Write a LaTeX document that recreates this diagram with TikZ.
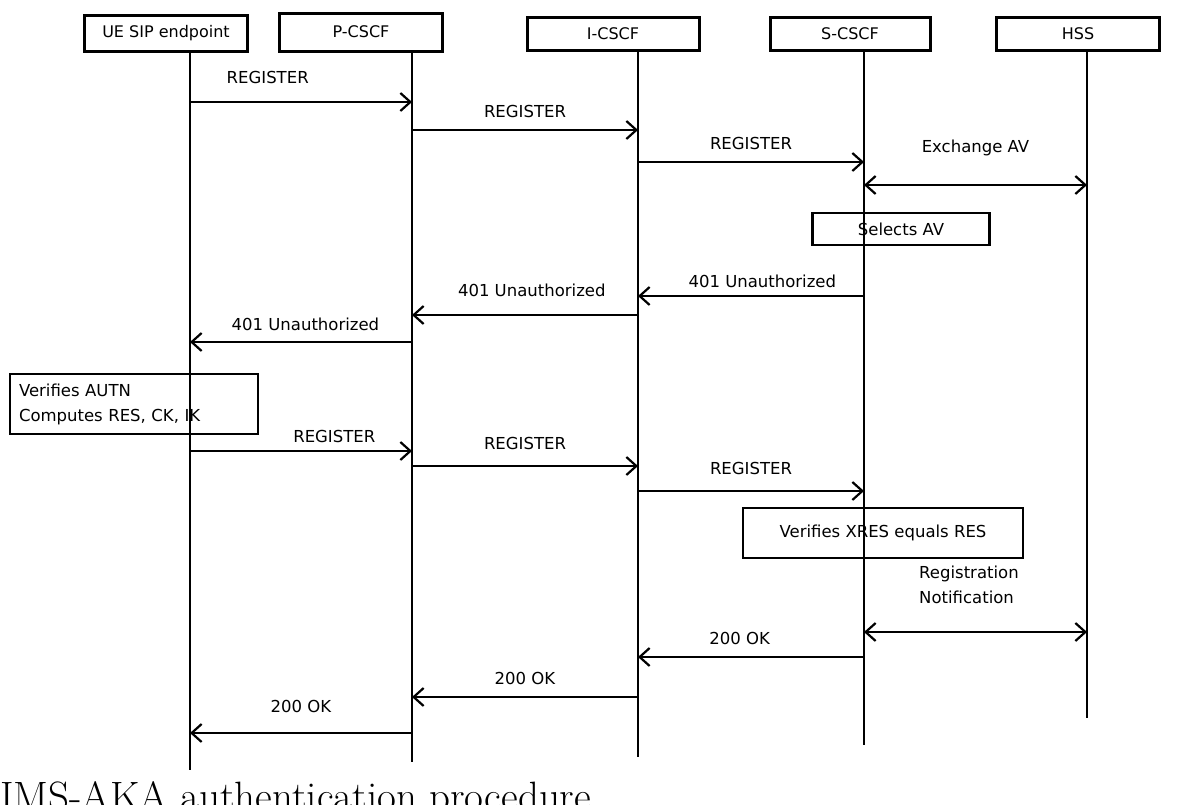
\documentclass[tikz,border=0pt]{standalone}
\usepackage{fontspec}
\setmainfont{Latin Modern Roman}
\newfontfamily\lbl{DejaVu Sans}
\usetikzlibrary{arrows.meta}
\begin{document}
\begin{tikzpicture}[x=1pt,y=-1pt,
  head/.style={draw, line width=3pt, font=\lbl\fontsize{16}{18}\selectfont, inner sep=0pt},
  life/.style={line width=2.8pt},
  msg/.style={line width=2.8pt, -{Straight Barb[length=10pt,width=18pt,line width=2.2pt]}},
  dmsg/.style={msg, {Straight Barb[length=10pt,width=18pt,line width=2.2pt]}-{Straight Barb[length=10pt,width=18pt,line width=2.2pt]}},
  lab/.style={font=\lbl\fontsize{16.5}{25}\selectfont, align=center},
  note/.style={draw, line width=2.4pt, lab, inner sep=0pt}]
\useasboundingbox (0,0) rectangle (1185,804);
% header boxes
\node[head, minimum width=163pt, minimum height=36pt] (ue) at (166,33) {UE SIP endpoint};
\node[head, minimum width=163pt, minimum height=38pt] (p) at (361,32) {P-CSCF};
\node[head, minimum width=172pt, minimum height=33pt] (i) at (613,34) {I-CSCF};
\node[head, minimum width=160pt, minimum height=33pt] (s) at (850,34) {S-CSCF};
\node[head, minimum width=163pt, minimum height=33pt] (h) at (1078,34) {HSS};
% lifeline ends
\coordinate (ue0) at (190,51); \coordinate (ue1) at (190,770);
\coordinate (p0) at (412,51);  \coordinate (p1) at (412,762);
\coordinate (i0) at (638,51);  \coordinate (i1) at (638,757);
\coordinate (s0) at (864,51);  \coordinate (s1) at (864,745);
\coordinate (h0) at (1087,51); \coordinate (h1) at (1087,718);
\foreach \a in {ue,p,i,s,h} \draw[life] (\a0) -- (\a1);
% first REGISTER
\draw[msg] (190,102) -- node[lab, above=14pt, pos=0.35] {REGISTER} (412,102);
\draw[msg] (412,130) -- node[lab, above=8pt] {REGISTER} (638,130);
\draw[msg] (638,162) -- node[lab, above=8pt] {REGISTER} (864,162);
\draw[dmsg] (864,185) -- node[lab, above=24pt] {Exchange AV} (1087,185);
\node[note, minimum width=177pt, minimum height=32pt] (sel) at (901,229) {Selects AV};
% 401
\draw[msg] (864,296) -- node[lab, above=4pt, pos=0.45] {401 Unauthorized} (638,296);
\draw[msg] (638,315) -- node[lab, above=14pt, pos=0.47] {401 Unauthorized} (412,315);
\draw[msg] (412,342) -- node[lab, above=7pt, pos=0.48] {401 Unauthorized} (190,342);
\node[note, align=left, text width=230pt, minimum width=248pt, minimum height=60pt] (aut) at (134,404) {Verifies AUTN\\Computes RES, CK, IK};
% second REGISTER
\draw[msg] (190,451) -- node[lab, above=4pt, pos=0.65] {REGISTER} (412,451);
\draw[msg] (412,466) -- node[lab, above=12pt] {REGISTER} (638,466);
\draw[msg] (638,491) -- node[lab, above=12pt] {REGISTER} (864,491);
\node[note, minimum width=280pt, minimum height=50pt] (xres) at (883,533) {Verifies XRES equals RES};
\draw[dmsg] (864,632) -- (1087,632);
\node[lab, align=left, anchor=north west, inner sep=0pt] (rn) at (919,566) {Registration\\Notification};
% 200 OK
\draw[msg] (864,657) -- node[lab, above=8pt, pos=0.55] {200 OK} (638,657);
\draw[msg] (638,697) -- node[lab, above=8pt, pos=0.5] {200 OK} (412,697);
\draw[msg] (412,733) -- node[lab, above=16pt, pos=0.5] {200 OK} (190,733);
% caption (cut off by the page edge, as in the reference)
\node[anchor=base west, inner sep=0pt, font=\fontsize{41}{44}\selectfont] (cap) at (0,810) {IMS-AKA authentication procedure};
\end{tikzpicture}
\end{document}
